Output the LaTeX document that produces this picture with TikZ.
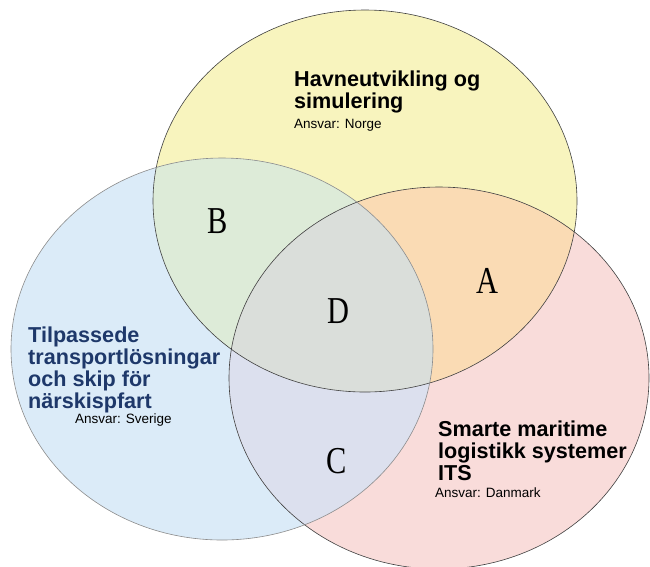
\documentclass[tikz,border=0pt]{standalone}
\usepackage{fontspec}
\setmainfont{Liberation Sans}
\newfontfamily\bokstavfont{Liberation Serif}

\definecolor{gulfarge}{RGB}{248,244,190}
\definecolor{blaafarge}{RGB}{219,235,248}
\definecolor{rosafarge}{RGB}{249,220,218}
\definecolor{gulblaa}{RGB}{221,235,216}
\definecolor{gulrosa}{RGB}{250,219,180}
\definecolor{blaarosa}{RGB}{220,224,238}
\definecolor{alle}{RGB}{218,222,218}
\definecolor{tittelblaa}{RGB}{30,56,106}

\newcommand\gulsirkel{(365,201) ellipse [x radius=212, y radius=191]}
\newcommand\blaasirkel{(222,349) ellipse [x radius=211, y radius=191]}
\newcommand\rosasirkel{(439,378) ellipse [x radius=210, y radius=191]}

\tikzset{
  tittel/.style={anchor=base west, align=left, font=\fontsize{21.6}{21.8}\selectfont\bfseries, inner sep=0pt},
  ansvar/.style={anchor=base west, font=\fontsize{13.5}{15}\selectfont, inner sep=0pt},
  bokstav/.style={font=\fontsize{38}{38}\selectfont\bokstavfont, xscale=0.8, inner sep=0pt}
}

\begin{document}
\begin{tikzpicture}[x=1pt,y=-1pt]
		\useasboundingbox (0,0) rectangle (650,566);
		\fill [white] (0,0) rectangle (650,566);

		% sirkler
		\fill [gulfarge] \gulsirkel;
		\fill [blaafarge] \blaasirkel;
		\fill [rosafarge] \rosasirkel;

		% overlapp
		\begin{scope}
			\clip \gulsirkel;
			\fill [gulblaa] \blaasirkel;
			\fill [gulrosa] \rosasirkel;
		\end{scope}
		\begin{scope}
			\clip \blaasirkel;
			\fill [blaarosa] \rosasirkel;
			\clip \rosasirkel;
			\fill [alle] \gulsirkel;
		\end{scope}

		% kanter
		\draw [line width=0.6pt, black!75] \gulsirkel;
		\draw [line width=0.6pt, black!75] \rosasirkel;
		\draw [line width=0.6pt, black!45] \blaasirkel;

		% Norge
		\node [tittel] (havn) at (294,108) {Havneutvikling og\\simulering};
		\node [ansvar] (norge) at (294,128) {Ansvar: Norge};

		% Sverige
		\node [tittel, text=tittelblaa] (transport) at (28,408) {Tilpassede\\transportlösningar\\och skip för\\närskispfart};
		\node [ansvar] (sverige) at (75,423) {Ansvar: Sverige};

		% Danmark
		\node [tittel] (smarte) at (438,480) {Smarte maritime\\logistikk systemer\\ITS};
		\node [ansvar] (danmark) at (435,497) {Ansvar: Danmark};

		% felt
		\node [bokstav] (A) at (487,281) {A};
		\node [bokstav] (B) at (218,221) {B};
		\node [bokstav] (C) at (337,461) {C};
		\node [bokstav] (D) at (338,311) {D};
	\end{tikzpicture}
\end{document}
